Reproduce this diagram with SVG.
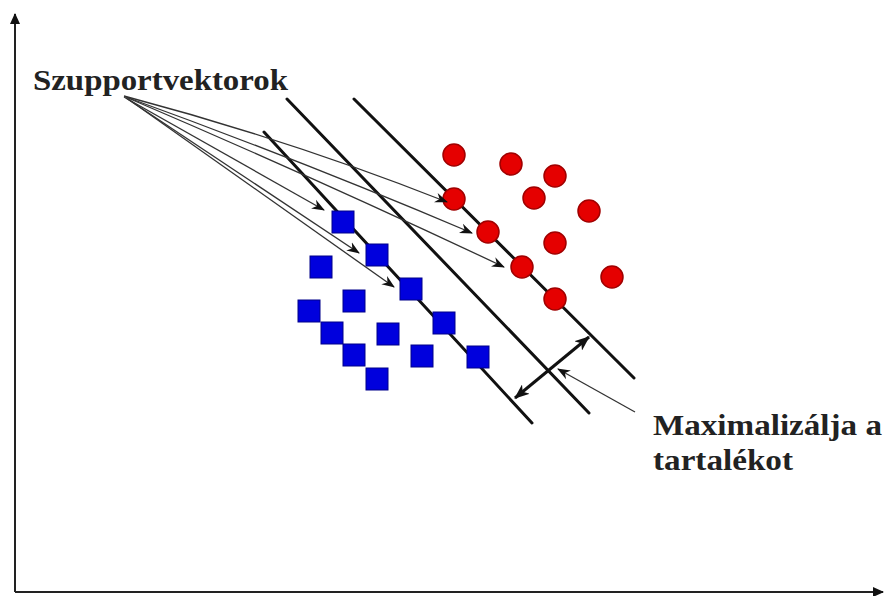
<svg xmlns="http://www.w3.org/2000/svg" width="888" height="596" viewBox="0 0 888 596">
<style>
.ax{stroke:#222;stroke-width:2;fill:none}
.hp{stroke:#111;stroke-width:3;fill:none;stroke-linecap:round}
.sv{stroke:#333;stroke-width:1.3;fill:none}
.red{fill:#e50000;stroke:#a00000;stroke-width:1.5}
.blue{fill:#0000dd;stroke:#00008a;stroke-width:1}
.lbl{font-family:"Liberation Serif","Times New Roman",serif;font-weight:bold;fill:#222}
</style>
<defs>
<marker id="ah" markerWidth="14" markerHeight="12" refX="12" refY="6" orient="auto" markerUnits="userSpaceOnUse"><path d="M0,1 L13,6 L0,11 L4,6 z" fill="#111"/></marker>
<marker id="ahs" markerWidth="16" markerHeight="12" refX="14" refY="6" orient="auto-start-reverse" markerUnits="userSpaceOnUse"><path d="M0,0 L15,6 L0,12 L4,6 z" fill="#111"/></marker>
<marker id="axh" markerWidth="12" markerHeight="12" refX="10" refY="6" orient="auto" markerUnits="userSpaceOnUse"><path d="M0,1 L11,6 L0,11 z" fill="#111"/></marker>
</defs>
<rect width="888" height="596" fill="#fff"/>
<g id="axes">
<line class="ax" x1="15" y1="592" x2="15" y2="14" marker-end="url(#axh)"/>
<line class="ax" x1="15" y1="592" x2="883" y2="592" marker-end="url(#axh)"/>
</g>
<g id="hyperplanes">
<line class="hp" x1="264" y1="132" x2="532" y2="423"/>
<line class="hp" x1="287" y1="99" x2="589" y2="413"/>
<line class="hp" x1="354" y1="99" x2="634" y2="378"/>
</g>
<g id="red-class">
<circle class="red" cx="454" cy="155" r="11"/>
<circle class="red" cx="511" cy="164" r="11"/>
<circle class="red" cx="555" cy="176" r="11"/>
<circle class="red" cx="534" cy="198" r="11"/>
<circle class="red" cx="589" cy="211" r="11"/>
<circle class="red" cx="454" cy="199" r="11"/>
<circle class="red" cx="488" cy="232" r="11"/>
<circle class="red" cx="555" cy="243" r="11"/>
<circle class="red" cx="522" cy="267" r="11"/>
<circle class="red" cx="612" cy="277" r="11"/>
<circle class="red" cx="555" cy="299" r="11"/>
</g>
<g id="blue-class">
<rect class="blue" x="332" y="211" width="22" height="22"/>
<rect class="blue" x="366" y="244" width="22" height="22"/>
<rect class="blue" x="310" y="256" width="22" height="22"/>
<rect class="blue" x="400" y="278" width="22" height="22"/>
<rect class="blue" x="343" y="290" width="22" height="22"/>
<rect class="blue" x="298" y="300" width="22" height="22"/>
<rect class="blue" x="433" y="312" width="22" height="22"/>
<rect class="blue" x="321" y="322" width="22" height="22"/>
<rect class="blue" x="377" y="323" width="22" height="22"/>
<rect class="blue" x="343" y="344" width="22" height="22"/>
<rect class="blue" x="411" y="345" width="22" height="22"/>
<rect class="blue" x="467" y="346" width="22" height="22"/>
<rect class="blue" x="366" y="368" width="22" height="22"/>
</g>
<g id="connectors">
<line class="sv" x1="124" y1="97" x2="324" y2="210" marker-end="url(#ah)"/>
<line class="sv" x1="126" y1="98" x2="359" y2="253" marker-end="url(#ah)"/>
<line class="sv" x1="128" y1="99" x2="394" y2="287" marker-end="url(#ah)"/>
<path class="sv" d="M124,96 Q290,140 447,202" marker-end="url(#ah)"/>
<path class="sv" d="M126,97 Q300,160 472,233" marker-end="url(#ah)"/>
<path class="sv" d="M128,98 Q320,180 504,267" marker-end="url(#ah)"/>
<line x1="515" y1="398" x2="589" y2="337" stroke="#111" stroke-width="3" marker-start="url(#ahs)" marker-end="url(#ahs)"/>
<line class="sv" x1="635" y1="412" x2="558" y2="369" marker-end="url(#ah)"/>
</g>
<g id="labels">
<text class="lbl" x="33" y="90" font-size="29" textLength="255" lengthAdjust="spacingAndGlyphs">Szupportvektorok</text>
<text class="lbl" x="653" y="435" font-size="30" textLength="229" lengthAdjust="spacingAndGlyphs">Maximalizálja a</text>
<text class="lbl" x="653" y="470" font-size="30" textLength="140" lengthAdjust="spacingAndGlyphs">tartalékot</text>
</g>
</svg>
